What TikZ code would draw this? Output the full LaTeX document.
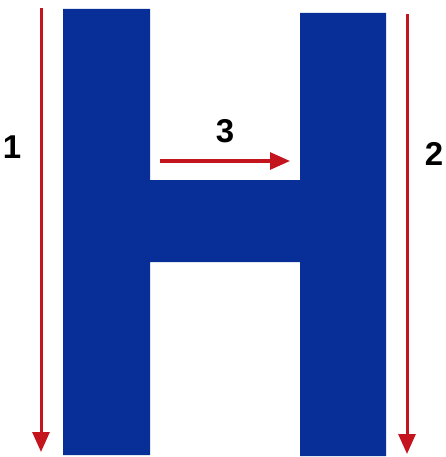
\documentclass[tikz,border=0pt]{standalone}
\usepackage{fontspec}
\setmainfont{Liberation Sans}
\usetikzlibrary{arrows.meta}
\definecolor{hblue}{RGB}{8,46,152}
\definecolor{strokered}{RGB}{196,20,30}
\begin{document}
\begin{tikzpicture}[x=1pt, y=-1pt]
        \tikzset{
            letter/.style={fill=hblue, draw=none},
            stroke/.style={draw=strokered, line width=3pt, -{Triangle[length=20pt, width=17pt]}},
            steplabel/.style={font=\fontsize{33}{38}\selectfont\bfseries, inner sep=0pt}
        }
        \useasboundingbox (0,0) rectangle (446,457);

        % the letter H
        \fill[letter] (63,9) -- (150,9) -- (150,180) -- (300,180) -- (300,13) -- (386,13)
            -- (386,456) -- (300,456) -- (300,262) -- (150,262) -- (150,455) -- (63,455) -- cycle;

        % stroke order
        \coordinate (s1a) at (41,8);
        \coordinate (s1b) at (41,452);
        \coordinate (s2a) at (407,14);
        \coordinate (s2b) at (407,454);
        \coordinate (s3a) at (160,161);
        \coordinate (s3b) at (290,161);
        \draw[stroke] (s1a) -- (s1b);
        \draw[stroke] (s2a) -- (s2b);
        \draw[stroke] (s3a) -- (s3b);

        \node[steplabel] (n1) at (12,147) {1};
        \node[steplabel] (n2) at (434,154) {2};
        \node[steplabel] (n3) at (225,131) {3};
    \end{tikzpicture}
\end{document}
